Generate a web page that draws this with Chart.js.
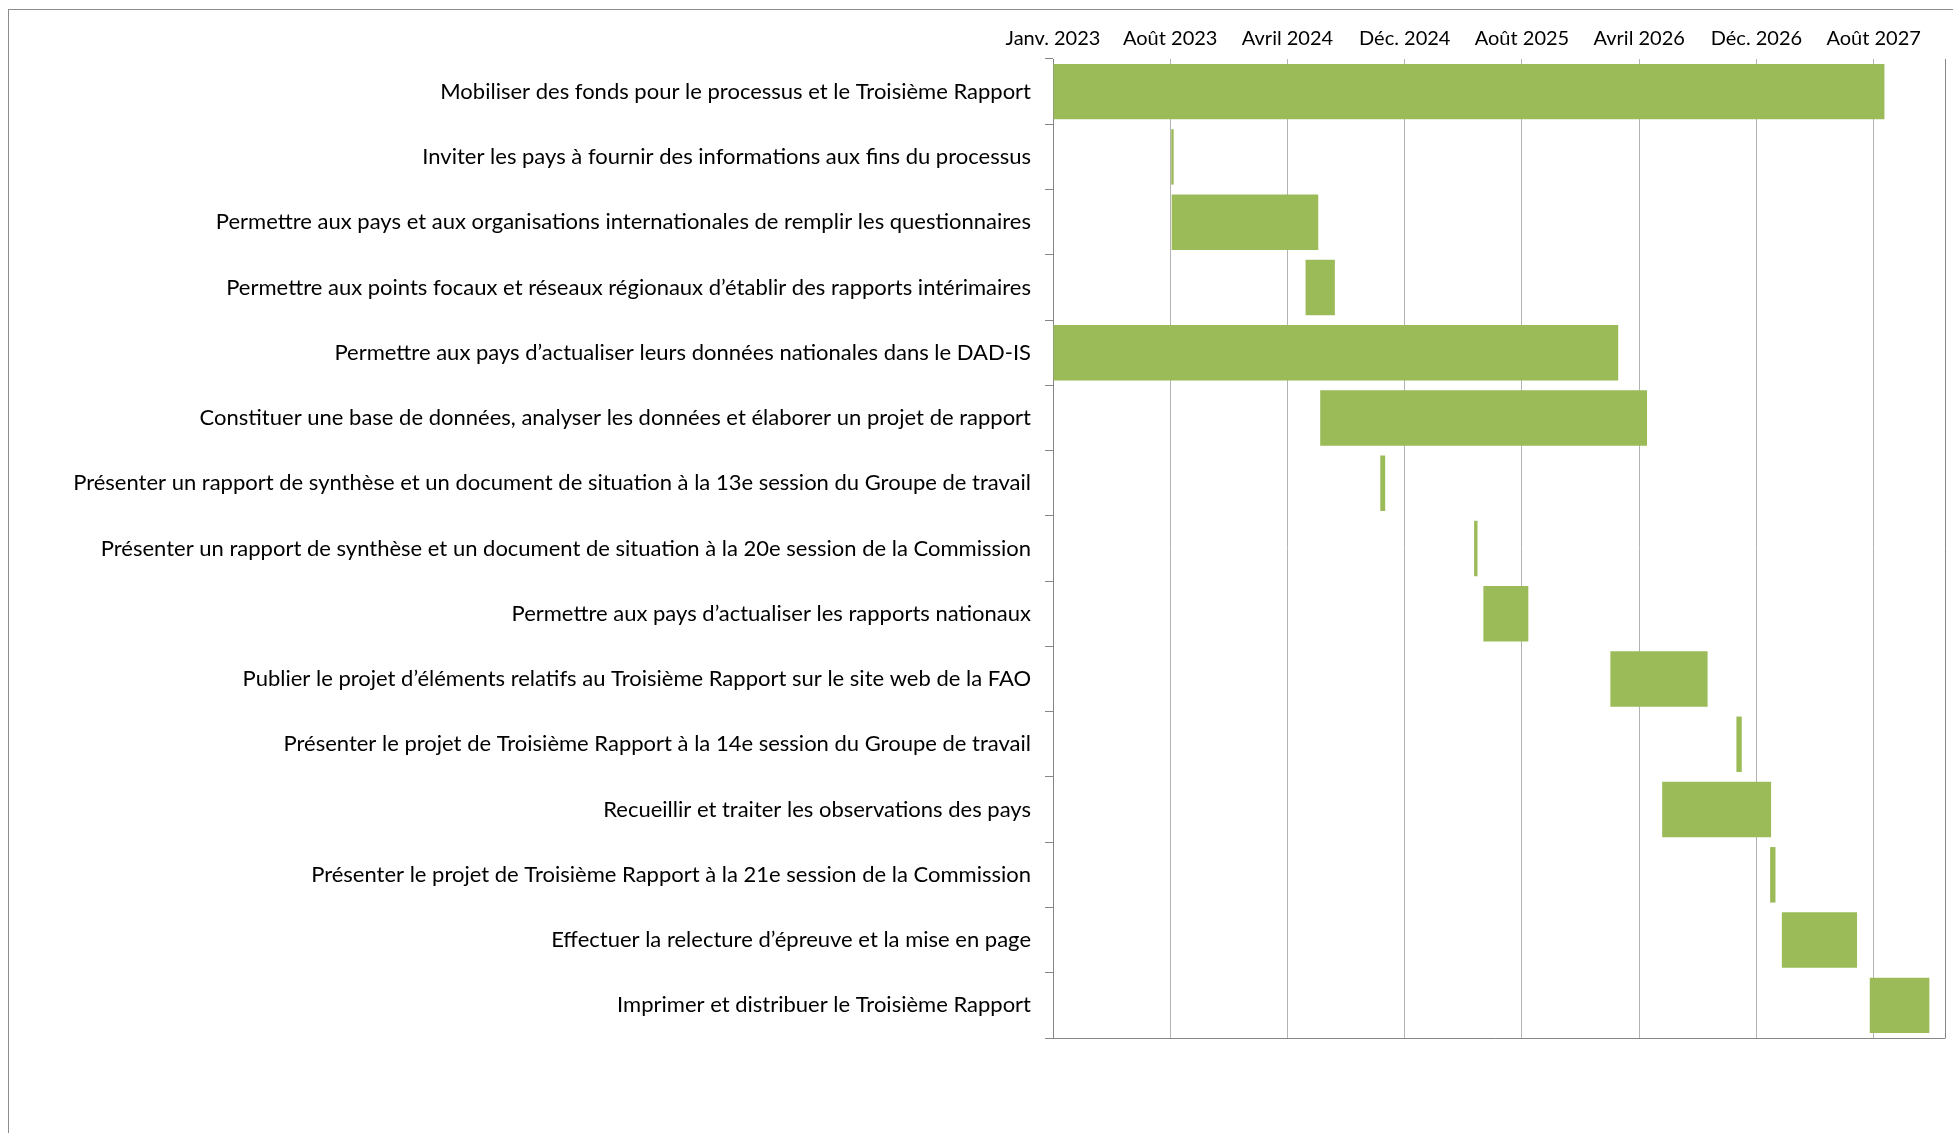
<!DOCTYPE html>
<html>
<head>
<meta charset="utf-8">
<script src="https://cdn.jsdelivr.net/npm/chart.js@4.4.1/dist/chart.umd.min.js"></script>
<style>
  html, body { margin: 0; padding: 0; background: #fff; }
  #wrap { position: relative; width: 1953px; height: 1133px; overflow: hidden; }
  #frame { position: absolute; left: 8px; top: 9px; width: 2200px; height: 1400px; border: 1px solid #8c8c8c; box-sizing: border-box; }
  canvas { position: absolute; left: 0; top: 0; }
</style>
</head>
<body>
<div id="wrap">
  <div id="frame"></div>
  <canvas id="c" width="1953" height="1133"></canvas>
</div>
<script>
// Tasks (top to bottom)
const tasks = [
  "Mobiliser des fonds pour le processus et le Troisième Rapport",
  "Inviter les pays à fournir des informations aux fins du processus",
  "Permettre aux pays et aux organisations internationales de remplir les questionnaires",
  "Permettre aux points focaux et réseaux régionaux d’établir des rapports intérimaires",
  "Permettre aux pays d’actualiser leurs données nationales dans le DAD-IS",
  "Constituer une base de données, analyser les données et élaborer un projet de rapport",
  "Présenter un rapport de synthèse et un document de situation à la 13e session du Groupe de travail",
  "Présenter un rapport de synthèse et un document de situation à la 20e session de la Commission",
  "Permettre aux pays d’actualiser les rapports nationaux",
  "Publier le projet d’éléments relatifs au Troisième Rapport sur le site web de la FAO",
  "Présenter le projet de Troisième Rapport à la 14e session du Groupe de travail",
  "Recueillir et traiter les observations des pays",
  "Présenter le projet de Troisième Rapport à la 21e session de la Commission",
  "Effectuer la relecture d’épreuve et la mise en page",
  "Imprimer et distribuer le Troisième Rapport"
];
// Start / end of each task, in days since 1 Jan 2023
const startDay = [0, 242, 243, 517, 0, 547, 670, 862, 881, 1141, 1399, 1247, 1468, 1492, 1672];
const endDay   = [1702, 247, 543, 577, 1157, 1216, 680, 869, 973, 1340, 1410, 1470, 1479, 1646, 1794];
// Axis ticks (days since 1 Jan 2023) and their labels
const tickDays   = [0, 240, 480, 720, 960, 1200, 1440, 1680];
const tickLabels = ["Janv. 2023", "Août 2023", "Avril 2024", "Déc. 2024", "Août 2025", "Avril 2026", "Déc. 2026", "Août 2027"];
const axisMax = 1826; // 1 Jan 2028

const FONT = "Lato";
const barData = startDay.map((s, i) => [s, endDay[i]]);

const frameLines = {
  id: 'frameLines',
  afterDraw(chart) {
    const a = chart.chartArea, ctx = chart.ctx;
    ctx.save();
    ctx.strokeStyle = '#868686';
    ctx.lineWidth = 1;
    ctx.beginPath();
    ctx.moveTo(a.left - 8, Math.round(a.bottom) + 0.5);
    ctx.lineTo(a.right + 0.5, Math.round(a.bottom) + 0.5);
    ctx.stroke();
    ctx.restore();
  }
};

new Chart(document.getElementById('c'), {
  type: 'bar',
  data: {
    labels: tasks,
    datasets: [{
      data: barData,
      backgroundColor: '#9BBB59',
      borderWidth: 0,
      barPercentage: 0.85,
      categoryPercentage: 1.0
    }]
  },
  options: {
    indexAxis: 'y',
    responsive: false,
    animation: false,
    devicePixelRatio: 1,
    layout: { padding: { left: 0, top: 0, right: 3, bottom: 95 } },
    plugins: { legend: { display: false }, tooltip: { enabled: false } },
    scales: {
      x: {
        type: 'linear',
        position: 'top',
        min: 0,
        max: axisMax,
        afterBuildTicks(scale) {
          scale.ticks = tickDays.concat([axisMax]).map(v => ({ value: v }));
        },
        afterFit(scale) { scale.height = 59; },
        ticks: {
          autoSkip: false,
          maxRotation: 0,
          padding: 8,
          color: '#000',
          font: { family: FONT, size: 20 },
          callback(v) { const i = tickDays.indexOf(v); return i >= 0 ? tickLabels[i] : ''; }
        },
        grid: { color: (ctx) => ctx.tick && ctx.tick.value === axisMax ? '#868686' : '#b3b3b3', drawTicks: false, lineWidth: 1 },
        border: { display: false }
      },
      y: {
        afterFit(scale) { scale.width = 1053; },
        ticks: {
          color: '#000',
          padding: 14,
          font: { family: FONT, size: 22 }
        },
        grid: { drawOnChartArea: false, drawTicks: true, tickLength: 8, color: '#868686', offset: true },
        border: { display: true, color: '#868686', width: 1 }
      }
    }
  },
  plugins: [frameLines]
});
</script>
</body>
</html>
